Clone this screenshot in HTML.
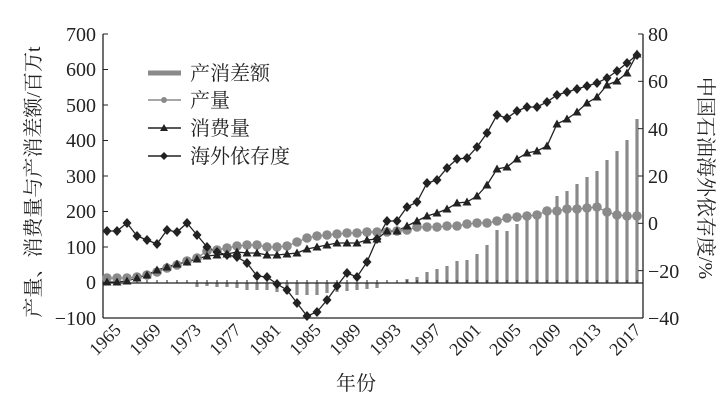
<!DOCTYPE html>
<html><head><meta charset="utf-8"><style>
html,body{margin:0;padding:0;background:#fff;}
svg{display:block;font-family:"Liberation Serif","Noto Serif CJK SC",serif;}
</style></head><body>
<svg id="c" width="728" height="403" viewBox="0 0 728 403" xmlns="http://www.w3.org/2000/svg">
<g id="bars" fill="#8a8a8a"></g>
<line x1="103" y1="283" x2="643" y2="283" stroke="#222" stroke-width="1.3"/>
<line x1="103" y1="318" x2="643" y2="318" stroke="#222" stroke-width="1.3"/>
<line x1="103" y1="34" x2="103" y2="318" stroke="#222" stroke-width="1.3"/>
<line x1="643" y1="34" x2="643" y2="318" stroke="#222" stroke-width="1.3"/>
<g id="ticks" stroke="#222" stroke-width="1"></g>
<g id="series"></g>
<g font-size="20" fill="#222" text-anchor="end">
<text x="96" y="41">700</text><text x="96" y="76">600</text><text x="96" y="112">500</text>
<text x="96" y="147">400</text><text x="96" y="183">300</text><text x="96" y="218">200</text>
<text x="96" y="254">100</text><text x="96" y="289">0</text><text x="96" y="325">−100</text>
</g>
<g font-size="20" fill="#222">
<text x="648" y="41">80</text><text x="648" y="88">60</text><text x="648" y="136">40</text>
<text x="648" y="183">20</text><text x="648" y="230">0</text><text x="648" y="278">−20</text>
<text x="648" y="325">−40</text>
</g>
<g id="xl" font-size="18" fill="#222"></g>
<text x="356" y="390" font-size="20" fill="#222" text-anchor="middle">年份</text>
<text transform="translate(40,182) rotate(-90)" font-size="20" fill="#222" text-anchor="middle" font-family="Liberation Serif,Noto Serif CJK SC,serif">产量、消费量与产消差额/百万t</text>
<text transform="translate(699,178) rotate(90)" font-size="20" fill="#222" text-anchor="middle">中国石油海外依存度/%</text>
<g font-size="20" fill="#222">
<line x1="148" y1="73" x2="181" y2="73" stroke="#8a8a8a" stroke-width="5"/>
<text x="190" y="80">产消差额</text>
<line x1="148" y1="100" x2="181" y2="100" stroke="#8a8a8a" stroke-width="1.5"/>
<circle cx="164" cy="100" r="3" fill="#8a8a8a"/>
<text x="190" y="107">产量</text>
<line x1="148" y1="128" x2="181" y2="128" stroke="#222" stroke-width="1.5"/>
<polygon points="164,124 168,131 160,131" fill="#222"/>
<text x="190" y="135">消费量</text>
<line x1="148" y1="156" x2="181" y2="156" stroke="#222" stroke-width="1.5"/>
<polygon points="164,152 168,156 164,160 160,156" fill="#222"/>
<text x="190" y="163">海外依存度</text>
</g>
</svg>
<script>
var NS="http://www.w3.org/2000/svg";
function el(t,a,p){var e=document.createElementNS(NS,t);for(var k in a)e.setAttribute(k,a[k]);p.appendChild(e);return e;}
var X=function(i){return 107+i*10;};
var dep=[231,231,223,236,240,244,230,232,223,235,247,252,255,257,263,276,277,284,290,303,316,312,300,286,273,277,262,239,221,221,207,202,183,180,168,159,158,147,133,115,118,111,107,107,102,95,92,89,86,83,78,71,63,55];
var prod=[278,278,278,277,275,272,268,265,261,258,251,250,248,246,245,245,247,247,246,242,238,236,235,234,233,233,232,232,232,231,230,227,227,227,226,226,224,223,223,221,218,217,216,215,211,211,209,209,208,207,212,215,216,216];
var cons=[282,282,281,278,275,270,267,264,262,259,256,255,254,252,253,253,255,255,254,253,249,247,245,243,243,243,240,239,231,231,226,221,216,213,209,203,202,196,185,169,167,159,153,151,146,124,119,112,103,97,85,81,73,54];
var bar={1974:287,1975:286,1976:287,1977:287,1978:288,1979:290,1980:290,1981:290,1982:292,1983:294,1984:295,1985:295,1986:295,1987:293,1988:292,1989:291,1990:290,1991:289,1992:288,
1995:279,1996:277,1997:272,1998:269,1999:266,2000:261,2001:260,2002:254,2003:245,2004:230,2005:231,2006:224,2007:218,2008:213,2009:210,2010:196,2011:191,2012:184,2013:177,2014:171,2015:160,2016:151,2017:140,2018:119};
var bg=document.getElementById('bars');
for(var y in bar){var i=y-1965,v=bar[y];el('rect',{x:X(i)-1.6,y:Math.min(v,283),width:3.2,height:Math.abs(v-283)},bg);}
var tk=document.getElementById('ticks');
for(var k=0;k<9;k++){var yy=34+k*35.5;el('line',{x1:103,y1:yy,x2:108,y2:yy},tk);}
for(var k=0;k<7;k++){var yy=34+k*47.33;el('line',{x1:638,y1:yy,x2:643,y2:yy},tk);}
for(var i=0;i<54;i++){el('line',{x1:X(i),y1:283,x2:X(i),y2:280},tk);}
var s=document.getElementById('series');
function line(d,c){el('polyline',{points:d.map(function(v,i){return X(i)+','+v;}).join(' '),fill:'none',stroke:c,'stroke-width':1.3},s);}
line(prod,'#8a8a8a');line(cons,'#222');line(dep,'#222');
prod.forEach(function(v,i){el('circle',{cx:X(i),cy:v,r:4.8,fill:'#8a8a8a'},s);});
cons.forEach(function(v,i){var x=X(i);el('polygon',{points:x+','+(v-4.5)+' '+(x+4.5)+','+(v+3.5)+' '+(x-4.5)+','+(v+3.5),fill:'#222'},s);});
dep.forEach(function(v,i){var x=X(i);el('polygon',{points:x+','+(v-5)+' '+(x+4.5)+','+v+' '+x+','+(v+5)+' '+(x-4.5)+','+v,fill:'#222'},s);});
var xl=document.getElementById('xl');
for(var yr=1965;yr<=2017;yr+=4){var x=X(yr-1965)+15;var t=el('text',{transform:'translate('+x+',331) rotate(-45)','text-anchor':'end'},xl);t.textContent=yr;}
</script>
</body></html>
